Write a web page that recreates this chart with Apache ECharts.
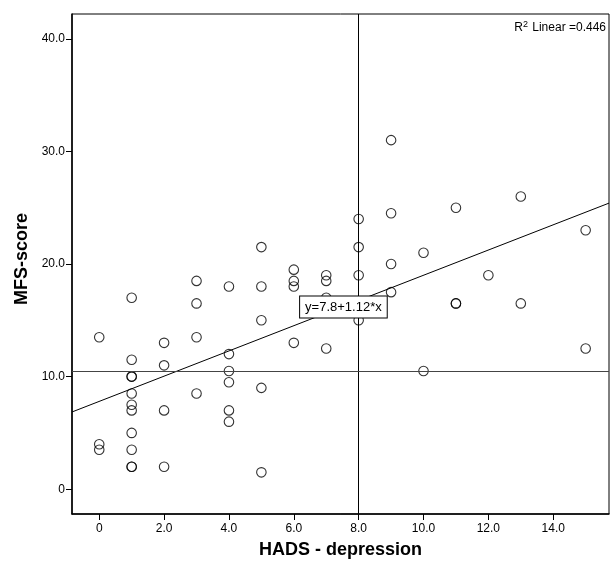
<!DOCTYPE html>
<html>
<head>
<meta charset="utf-8">
<script src="https://cdn.jsdelivr.net/npm/echarts@6/dist/echarts.min.js"></script>
<style>
	html, body { margin: 0; padding: 0; background: #fff; }
	#chart { width: 610px; height: 566px; }
</style>
</head>
<body>
<div id="chart"></div>
<script>
// 数据
let hads = [0, 0, 0, 1, 1, 1, 1, 1, 1, 1, 1, 1, 1, 1, 2, 2, 2, 2, 3, 3, 3, 3, 4, 4, 4, 4, 4, 4, 5, 5, 5, 5, 5, 6, 6, 6, 6, 7, 7, 7, 7, 8, 8, 8, 8, 9, 9, 9, 9, 10, 10, 11, 11, 11, 12, 13, 13, 15, 15];
let mfs = [13.5, 4, 3.5, 17, 11.5, 10, 10, 8.5, 7.5, 7, 5, 3.5, 2, 2, 13, 11, 7, 2, 18.5, 16.5, 13.5, 8.5, 18, 12, 10.5, 9.5, 7, 6, 21.5, 18, 15, 9, 1.5, 19.5, 18.5, 18, 13, 19, 18.5, 17, 12.5, 24, 21.5, 19, 15, 31, 24.5, 20, 17.5, 21, 10.5, 25, 16.5, 16.5, 19, 26, 16.5, 23, 12.5];
let x_ticks = [0, 2, 4, 6, 8, 10, 12, 14];
let y_ticks = [0, 10, 20, 30, 40];
let x_range = [-0.84, 15.72];
let y_range = [-2.2, 42.2];
let fit_intercept = 7.8; // 回归截距
let fit_slope = 1.12; // 回归斜率
let r2 = 0.446;
let cut_x = 8; // 参考线
let cut_y = 10.5;

let points = hads.map((v, i) => [v, mfs[i]]);
let fit_line = x_range.map((x) => [x, fit_intercept + fit_slope * x]);

let font = '"Liberation Sans", Arial, sans-serif';
function tick_label(v) {
	return v === 0 ? '0' : v.toFixed(1);
}

let chart = echarts.init(document.getElementById('chart'));
chart.setOption({
	animation: false,
	grid: {
		left: 72,
		right: 1,
		top: 14,
		bottom: 52,
		show: true,
		borderColor: '#000',
		borderWidth: 1,
	},
	xAxis: {
		type: 'value',
		min: x_range[0],
		max: x_range[1],
		name: 'HADS - depression',
		nameLocation: 'middle',
		nameGap: 27,
		nameTextStyle: { fontFamily: font, fontSize: 18, fontWeight: 'bold', color: '#000' },
		axisLine: { show: true, onZero: false, lineStyle: { color: '#000', width: 1.5 } },
		axisTick: { show: true, length: 6, customValues: x_ticks, lineStyle: { color: '#000' } },
		axisLabel: { customValues: x_ticks, formatter: tick_label, fontFamily: font, fontSize: 12, color: '#000', margin: 9 },
		splitLine: { show: false },
	},
	yAxis: {
		type: 'value',
		min: y_range[0],
		max: y_range[1],
		name: 'MFS-score',
		nameLocation: 'middle',
		nameGap: 37,
		nameRotate: 90,
		nameTextStyle: { fontFamily: font, fontSize: 18, fontWeight: 'bold', color: '#000', padding: [0, 0, 0, 10] },
		axisLine: { show: true, onZero: false, lineStyle: { color: '#000', width: 1.5 } },
		axisTick: { show: true, length: 6, customValues: y_ticks, lineStyle: { color: '#000' } },
		axisLabel: { customValues: y_ticks, formatter: tick_label, fontFamily: font, fontSize: 12, color: '#000', margin: 7 },
		splitLine: { show: false },
	},
	series: [
		{
			type: 'line',
			data: fit_line,
			showSymbol: false,
			silent: true,
			lineStyle: { color: '#000', width: 1 },
			markPoint: {
				symbol: 'rect',
				symbolSize: 1,
				itemStyle: { color: 'transparent' },
				data: [{ coord: [7.53, 16.18] }],
				label: {
					show: true,
					position: 'inside',
					formatter: `y=${fit_intercept}+${fit_slope}*x`,
					backgroundColor: '#fff',
					borderColor: '#000',
					borderWidth: 1,
					padding: [4, 5, 4, 5],
					fontFamily: font,
					fontSize: 13,
					color: '#000',
				},
			},
		},
		{
			type: 'scatter',
			data: points,
			symbol: 'circle',
			symbolSize: 9.5,
			itemStyle: { color: 'transparent', borderColor: '#000', borderWidth: 1.1 },
			markLine: {
				silent: true,
				symbol: 'none',
				label: { show: false },
				data: [
					{ xAxis: cut_x, lineStyle: { color: '#000', width: 1, type: 'solid' } },
					{ yAxis: cut_y, lineStyle: { color: '#444', width: 1.2, type: 'solid' } },
				],
			},
		},
	],
	graphic: [
		{
			type: 'text',
			right: 4,
			top: 20,
			style: {
				text: `{a|R}{s|2}{a| Linear =${r2}}`,
				rich: {
					a: { fontFamily: font, fontSize: 12, color: '#000' },
					s: { fontFamily: font, fontSize: 9, color: '#000', padding: [0, 1, 7, 0] },
				},
			},
		},
	],
});
</script>
</body>
</html>
